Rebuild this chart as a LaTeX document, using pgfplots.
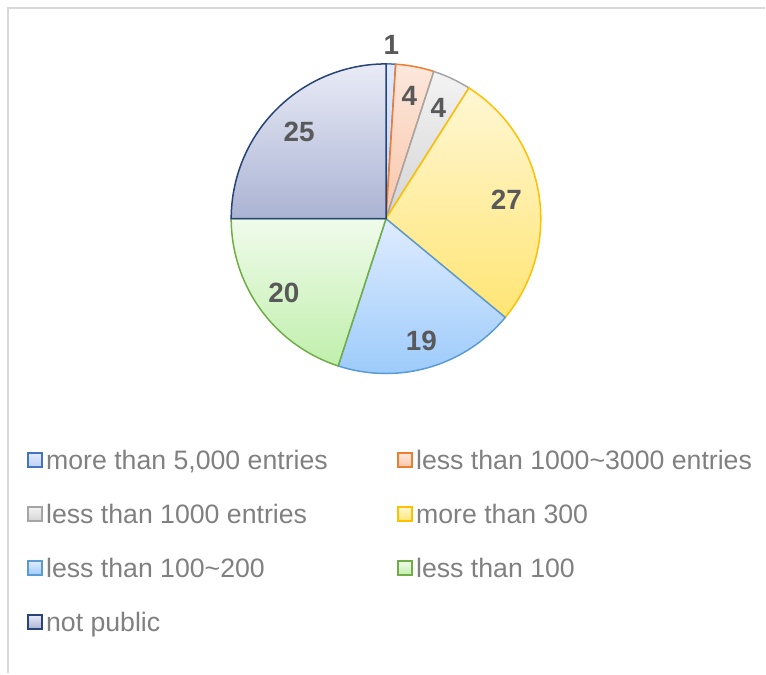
\documentclass[border=0pt]{standalone}
\usepackage{pgfplots}
\pgfplotsset{compat=1.18}
\usepackage{fontspec}
\setmainfont{Liberation Sans}

\definecolor{bA}{HTML}{4472C4}\definecolor{tA}{HTML}{E2E9FB}\definecolor{uA}{HTML}{BDD0F4}
\definecolor{bB}{HTML}{ED7D31}\definecolor{tB}{HTML}{FDE7DC}\definecolor{uB}{HTML}{F8C6AA}
\definecolor{bC}{HTML}{A5A5A5}\definecolor{tC}{HTML}{F3F3F3}\definecolor{uC}{HTML}{D4D4D4}
\definecolor{bD}{HTML}{FFC000}\definecolor{tD}{HTML}{FFF7D4}\definecolor{uD}{HTML}{FFE574}
\definecolor{bE}{HTML}{5B9BD5}\definecolor{tE}{HTML}{DFECFE}\definecolor{uE}{HTML}{9DCBFB}
\definecolor{bF}{HTML}{70AD47}\definecolor{tF}{HTML}{F0FBEB}\definecolor{uF}{HTML}{C0EFAC}
\definecolor{bG}{HTML}{264478}\definecolor{tG}{HTML}{E9EBF6}\definecolor{uG}{HTML}{AAB3D3}
\definecolor{labelgray}{HTML}{595959}
\definecolor{legendgray}{HTML}{808080}
\definecolor{framegray}{HTML}{D9D9D9}

\newcommand\cx{386.5}
\newcommand\cy{455}
\newcommand\R{155}

% #1 cumulative before, #2 value, #3 border, #4 top colour, #5 bottom colour, #6 label radius, #7 legend text
\newcommand\pieslice[7]{%
  \addplot[draw=#3, line width=1.5bp, top color=#4, bottom color=#5, mark=none,
    domain={90-3.6*(#1+#2)}:{90-3.6*(#1)}, samples=80, variable=\t]
    ({\cx+\R*cos(\t)},{\cy+\R*sin(\t)}) -- (axis cs:\cx,\cy) -- cycle;
  \addlegendentry{#7}
  \node[font=\fontsize{28}{33}\selectfont\bfseries, text=labelgray, inner sep=0pt]
    at (axis cs:{\cx+#6*cos(90-3.6*(#1+#2/2))},{\cy+#6*sin(90-3.6*(#1+#2/2))}) {#2};
}

\begin{document}
\begin{tikzpicture}
\begin{axis}[
  scale only axis, width=766bp, height=674bp,
  xmin=0, xmax=766, ymin=0, ymax=674,
  hide axis, clip=false,
  legend image code/.code={\draw[#1, line width=1.5bp] (0bp,-4bp) rectangle (14bp,10bp);
    \coordinate (legendpad) at (16bp,0bp);},
  legend columns=2,
  legend cell align=left,
  legend style={at={(axis cs:27,674-451)}, anchor=north west, draw=none, fill=none,
    inner sep=0pt, row sep=29bp,
    font=\fontsize{26.8}{31}\selectfont, text=legendgray,
    nodes={inner xsep=3.5bp, inner ysep=0pt, text height=19bp, text depth=6bp},
    /tikz/every even column/.append style={column sep=66bp}},
]
\path (axis cs:0,0) rectangle (axis cs:766,674);
\draw[framegray, line width=2bp] (axis cs:8,0) -- (axis cs:8,666) -- (axis cs:766,666);

\pieslice{0}{1}{bA}{tA}{uA}{174}{more than 5,000 entries}
\pieslice{1}{4}{bB}{tB}{uB}{125}{less than 1000\textasciitilde 3000 entries}
\pieslice{5}{4}{bC}{tC}{uC}{123}{less than 1000 entries}
\pieslice{9}{27}{bD}{tD}{uD}{122}{more than 300}
\pieslice{36}{19}{bE}{tE}{uE}{127}{less than 100\textasciitilde 200}
\pieslice{55}{20}{bF}{tF}{uF}{126.5}{less than 100}
\pieslice{75}{25}{bG}{tG}{uG}{123}{not public}
\end{axis}
\end{tikzpicture}
\end{document}
